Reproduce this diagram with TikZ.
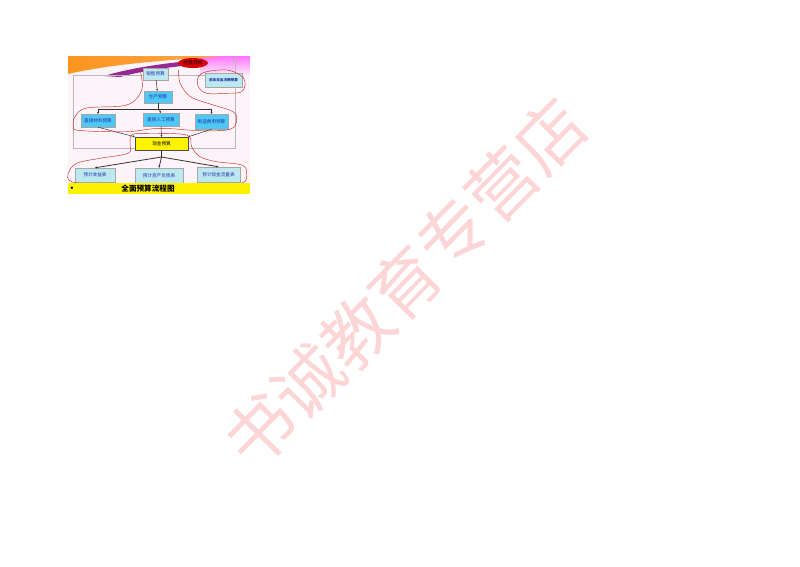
\documentclass[tikz,border=0pt]{standalone}
\usepackage{fontspec}
\newfontfamily\cjk{Noto Sans CJK SC}
\usetikzlibrary{shapes.geometric,arrows.meta}
\definecolor{boxpale}{RGB}{190,232,240}
\definecolor{boxcyan}{RGB}{80,200,245}
\definecolor{boxtext}{RGB}{30,50,170}
\definecolor{lasso}{RGB}{205,40,40}
\definecolor{wmpink}{RGB}{252,214,214}
\definecolor{swooshor}{RGB}{250,150,30}
\definecolor{swooshpu}{RGB}{150,40,150}
\definecolor{slidebg}{RGB}{252,244,248}
\tikzset{
	budget/.style={draw=gray!70, fill=#1, text=boxtext, inner sep=0.5pt,
		font=\cjk\fontsize{4.6}{5}\selectfont},
	lassoline/.style={draw=lasso, line width=0.45pt},
	flow/.style={-{Stealth[length=2pt,width=2pt]}, line width=0.5pt, black!80}
}
\begin{document}
\begin{tikzpicture}[x=1pt,y=-1pt]
		%%%%% START %%%%%
		\useasboundingbox (0,0) rectangle (800,566);
		
		% watermark
		\node[rotate=45.5, text=wmpink, font=\cjk\fontsize{69}{69}\selectfont] (shop) at (405,283) {书诚教育专营店};
		
		% slide background
		\fill[slidebg] (68,56) rectangle (250,183);
		\shade[top color=magenta!55, bottom color=slidebg] (200,56) rectangle (250,76);
		\shade[left color=swooshor, right color=orange!70] (68,56) -- (222,56) .. controls (180,60) and (120,62) .. (68,74) -- cycle;
		\fill[swooshpu] (104,76) .. controls (130,68) and (165,63) .. (200,60) -- (203,64) .. controls (165,67) and (138,72) .. (120,77) -- cycle;
		\draw[gray!55, line width=0.6pt] (73,75) rectangle (235,148);
		\draw[gray!55, line width=0.6pt] (235,56) -- (235,75);
		
		% budget boxes
		\node[ellipse, fill=red!85!black, text=black, inner sep=0.5pt, minimum width=30pt, minimum height=10pt, font=\cjk\fontsize{4.8}{5}\selectfont] (goal) at (193,63) {经营目标};
		\node[budget=boxpale, minimum width=25pt, minimum height=12pt] (sales) at (155.5,74) {销售预算};
		\node[budget=boxcyan, minimum width=28pt, minimum height=12pt] (prod) at (158,97) {生产预算};
		\node[budget=boxpale, minimum width=37pt, minimum height=14pt, font=\cjk\bfseries\fontsize{3.6}{4}\selectfont] (capex) at (223.5,80) {资本支出决策预算};
		\node[budget=boxcyan, minimum width=34pt, minimum height=13pt] (mat) at (98,120.5) {直接材料预算};
		\node[budget=boxcyan, minimum width=36pt, minimum height=13pt] (lab) at (161,119.5) {直接人工预算};
		\node[budget=boxcyan, minimum width=33pt, minimum height=15pt] (ovh) at (211.5,121.5) {制造费用预算};
		\node[budget=yellow, draw=black!70, text=black, minimum width=53pt, minimum height=13pt] (cash) at (161.5,143.5) {现金预算};
		\node[budget=boxpale, minimum width=40pt, minimum height=14pt] (inc) at (95,175) {预计收益表};
		\node[budget=boxpale, minimum width=48pt, minimum height=15pt] (bal) at (159,175.5) {预计资产负债表};
		\node[budget=boxpale, minimum width=43pt, minimum height=15pt] (cf) at (218.5,174.5) {预计现金流量表};
		
		% connectors
		\coordinate (bus) at (158,109);
		\coordinate (hub) at (161.5,157);
		\draw[flow] (sales) -- (prod);
		\draw[line width=0.5pt, black!80] (prod) -- (bus);
		\draw[line width=0.5pt, black!80] (mat.north|-bus) -- (ovh.north|-bus);
		\draw[flow] (mat.north|-bus) -- (mat.north);
		\draw[flow] (bus) -- (lab.north);
		\draw[flow] (ovh.north|-bus) -- (ovh.north);
		\draw[flow] (mat.south) -- (cash.north west);
		\draw[flow] (lab.south) -- (cash.north);
		\draw[flow] (ovh.south) -- (cash.north east);
		\draw[line width=0.7pt, black!85] (cash) -- (hub);
		\draw[flow, line width=0.8pt] (hub) -- (inc.north);
		\draw[flow, line width=0.8pt] (hub) -- (bal.north);
		\draw[flow, line width=0.8pt] (hub) -- (cf.north);
		
		% red lassos
		\draw[lassoline] plot[smooth, tension=0.6] coordinates {(140,70) (141.7,90) (126.7,105) (86.7,108) (75,116.7) (73.5,126.7) (80,130.5) (126.7,131.7) (160,128.3) (200,130.7) (230,129.3) (236.7,120) (233,111.7) (213.3,105) (195,99) (186.7,93.3) (180,83) (178.3,70)};
		\draw[lassoline] plot[smooth cycle, tension=0.6] coordinates {(206.7,71.7) (226.7,70) (240,75) (245,81.7) (241.7,91.7) (226.7,93.3) (206.7,93.3) (198.3,86.7) (198.3,76.7)};
		\draw[lassoline] plot[smooth cycle, tension=0.6] coordinates {(131.7,135) (130,145) (128,153.3) (100,158.3) (76.7,163.3) (68.3,173.3) (71.7,181.7) (100,185) (160,186) (210,185) (241.7,183.3) (246.7,173.3) (241.7,165) (216.7,161.7) (200,156.7) (191.7,146.7) (190,137.3) (180,134) (146.7,133.3)};
		
		% title bar
		\fill[yellow] (68,183) rectangle (250,194);
		\node[font=\fontsize{5}{5}\selectfont] (dot) at (72,188.5) {$\bullet$};
		\node[font=\cjk\bfseries\fontsize{7.6}{8}\selectfont] (title) at (148,188.5) {全面预算流程图};
		
		%%%%% END %%%%%
\end{tikzpicture}
\end{document}
